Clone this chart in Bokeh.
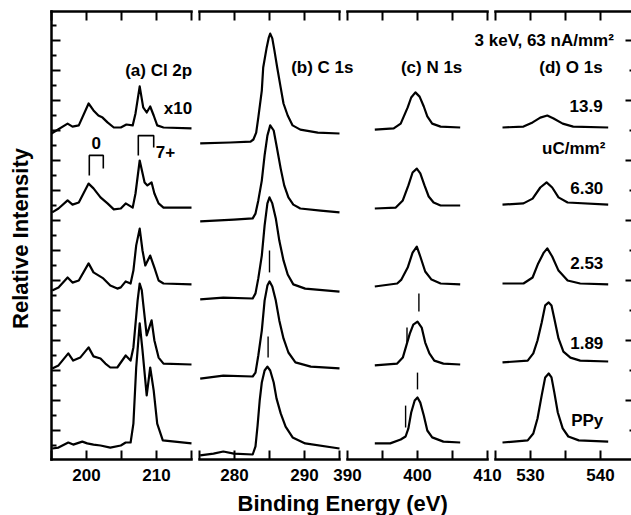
import math
from bokeh.plotting import figure
from bokeh.models import Range1d, LinearAxis, FixedTicker, Label
from bokeh.embed import file_html
from bokeh.resources import INLINE

# ---------------- data (binding energy in eV, stacked relative intensity) -------------
doses = ["PPy", "1.89", "2.53", "6.30", "13.9"]

# Cl 2p
cl_ppy_x = [195.1, 196.0, 197.4, 198.1, 199.4, 200.1, 201.0, 202.0, 203.4, 204.9, 205.6, 206.3, 206.7, 207.1, 207.6, 208.0, 208.6, 209.1, 209.6, 210.1, 210.9, 215.0]
cl_ppy_y = [0.40, 0.43, 0.60, 0.53, 0.63, 0.57, 0.53, 0.50, 0.43, 0.50, 0.60, 0.60, 1.23, 3.10, 4.57, 3.67, 2.17, 3.10, 2.33, 1.23, 0.67, 0.57]
cl_189_x = [195.1, 196.0, 197.4, 198.1, 199.1, 200.3, 201.0, 202.0, 202.7, 203.4, 204.4, 205.6, 206.3, 206.7, 207.3, 207.6, 207.9, 208.1, 208.6, 209.3, 209.7, 210.3, 211.0, 215.0]
cl_189_y = [3.07, 3.17, 3.57, 3.33, 3.43, 3.77, 3.47, 3.40, 3.23, 3.10, 3.10, 3.50, 3.33, 3.77, 5.33, 5.90, 5.67, 5.23, 4.17, 4.67, 4.00, 3.43, 3.23, 3.20]
cl_253_x = [195.1, 196.0, 197.3, 198.0, 198.9, 200.3, 201.0, 201.7, 202.4, 203.4, 204.4, 204.9, 205.6, 206.3, 206.7, 207.1, 207.6, 208.0, 208.4, 209.1, 209.7, 210.3, 211.0, 215.0]
cl_253_y = [5.67, 5.77, 6.10, 5.93, 6.00, 6.57, 6.27, 6.17, 6.07, 5.83, 5.73, 5.77, 5.97, 5.90, 6.33, 7.17, 7.73, 7.00, 6.50, 6.83, 6.43, 6.00, 5.90, 5.87]
cl_630_x = [195.1, 196.0, 197.3, 198.0, 198.9, 200.3, 201.0, 202.0, 203.0, 203.9, 204.9, 205.6, 206.6, 207.0, 207.6, 208.3, 208.7, 209.3, 209.7, 210.3, 211.0, 215.0]
cl_630_y = [8.27, 8.40, 8.67, 8.53, 8.60, 9.23, 9.07, 8.77, 8.57, 8.37, 8.40, 8.57, 8.43, 8.90, 10.00, 9.27, 9.17, 9.27, 8.90, 8.57, 8.43, 8.43]
cl_139_x = [195.0, 197.3, 198.0, 198.9, 200.3, 201.0, 201.7, 202.3, 203.0, 203.9, 204.9, 205.7, 206.6, 207.0, 207.6, 208.1, 208.6, 209.1, 209.6, 210.1, 211.0, 215.0]
cl_139_y = [10.90, 11.23, 11.13, 11.17, 11.90, 11.67, 11.50, 11.43, 11.27, 11.10, 11.10, 11.20, 11.17, 11.57, 12.47, 11.77, 11.60, 11.80, 11.50, 11.17, 11.10, 11.07]

# C 1s
c_ppy_x = [275.1, 277.0, 278.4, 279.9, 282.6, 283.0, 283.3, 283.6, 283.9, 284.3, 284.7, 285.1, 285.6, 286.0, 286.6, 287.3, 288.3, 290.1, 295.0]
c_ppy_y = [0.17, 0.23, 0.30, 0.23, 0.20, 0.47, 1.17, 2.00, 2.60, 3.00, 3.13, 3.00, 2.60, 2.07, 1.57, 1.13, 0.77, 0.57, 0.40]
c_189_x = [275.1, 278.4, 282.6, 283.0, 283.4, 283.9, 284.3, 284.7, 285.0, 285.4, 285.9, 286.4, 287.0, 287.7, 288.7, 290.9, 295.0]
c_189_y = [2.73, 2.83, 2.80, 2.93, 3.50, 4.33, 5.33, 5.83, 5.97, 5.80, 5.33, 4.67, 4.07, 3.60, 3.27, 3.13, 3.07]
c_253_x = [275.1, 278.4, 282.6, 283.0, 283.4, 283.9, 284.3, 284.7, 285.0, 285.4, 285.9, 286.4, 287.0, 287.6, 288.4, 290.1, 295.0]
c_253_y = [5.37, 5.43, 5.40, 5.57, 6.07, 6.83, 7.83, 8.57, 8.77, 8.57, 8.07, 7.33, 6.67, 6.20, 5.87, 5.73, 5.63]
c_630_x = [275.1, 279.9, 282.6, 283.0, 283.4, 283.9, 284.3, 284.7, 285.1, 285.6, 286.0, 286.6, 287.1, 287.7, 288.4, 289.4, 292.3, 295.0]
c_630_y = [7.97, 8.03, 8.07, 8.23, 8.67, 9.33, 10.17, 10.83, 11.17, 11.00, 10.50, 9.73, 9.17, 8.77, 8.53, 8.40, 8.33, 8.27]
c_139_x = [275.1, 279.4, 282.3, 282.7, 283.1, 283.4, 283.9, 284.1, 284.6, 284.9, 285.1, 285.4, 285.7, 286.1, 286.6, 287.0, 287.6, 288.3, 289.4, 291.9, 295.0]
c_139_y = [10.57, 10.60, 10.63, 10.70, 10.93, 11.43, 12.33, 13.10, 13.77, 14.10, 14.23, 14.07, 13.67, 13.10, 12.43, 11.90, 11.50, 11.17, 11.03, 10.93, 10.90]

# N 1s
n_ppy_x = [393.9, 396.1, 397.6, 398.3, 398.7, 399.1, 399.6, 400.0, 400.4, 400.9, 401.4, 402.1, 403.7, 406.1]
n_ppy_y = [0.57, 0.57, 0.70, 0.80, 1.07, 1.60, 2.00, 2.10, 1.93, 1.50, 1.00, 0.77, 0.63, 0.60]
n_189_x = [393.9, 397.1, 397.9, 398.4, 398.9, 399.4, 400.0, 400.6, 401.1, 401.7, 402.4, 403.7, 406.1]
n_189_y = [3.17, 3.23, 3.43, 3.83, 4.23, 4.53, 4.63, 4.43, 3.93, 3.57, 3.33, 3.23, 3.20]
n_253_x = [393.9, 397.1, 397.7, 398.6, 399.3, 399.9, 400.4, 401.1, 402.0, 403.3, 406.1]
n_253_y = [5.80, 5.90, 6.03, 6.43, 6.93, 7.13, 6.80, 6.30, 6.03, 5.90, 5.87]
n_630_x = [393.9, 396.9, 397.9, 398.7, 399.3, 399.9, 400.4, 401.0, 401.6, 402.3, 403.3, 406.1]
n_630_y = [8.40, 8.43, 8.67, 9.17, 9.60, 9.73, 9.57, 9.17, 8.80, 8.60, 8.50, 8.50]
n_139_x = [393.9, 396.6, 397.6, 398.6, 399.1, 399.7, 400.3, 400.9, 401.4, 402.1, 403.3, 406.1]
n_139_y = [11.03, 11.07, 11.23, 11.77, 12.10, 12.27, 12.13, 11.80, 11.47, 11.23, 11.13, 11.10]

# O 1s
o_ppy_x = [526.0, 529.6, 530.4, 531.0, 531.6, 532.1, 532.6, 533.0, 533.4, 533.9, 534.6, 535.4, 536.9, 541.1]
o_ppy_y = [0.60, 0.67, 0.90, 1.40, 2.17, 2.77, 2.90, 2.77, 2.27, 1.60, 1.07, 0.80, 0.67, 0.63]
o_189_x = [526.0, 529.6, 530.4, 531.0, 531.6, 532.1, 532.6, 533.0, 533.4, 534.0, 534.7, 535.7, 537.1, 541.1]
o_189_y = [3.27, 3.33, 3.57, 4.00, 4.60, 5.17, 5.27, 5.17, 4.73, 4.07, 3.63, 3.43, 3.33, 3.30]
o_253_x = [526.0, 529.0, 530.3, 531.1, 531.9, 532.4, 533.1, 534.0, 535.3, 537.1, 541.1]
o_253_y = [5.90, 5.90, 6.10, 6.57, 6.93, 7.07, 6.80, 6.33, 6.00, 5.90, 5.87]
o_630_x = [526.0, 529.0, 530.3, 531.4, 532.3, 533.1, 534.0, 535.3, 541.1]
o_630_y = [8.53, 8.57, 8.73, 9.10, 9.27, 9.10, 8.77, 8.60, 8.53]
o_139_x = [526.0, 529.0, 530.3, 531.4, 532.4, 533.3, 534.6, 536.1, 541.1]
o_139_y = [11.10, 11.13, 11.27, 11.43, 11.50, 11.40, 11.23, 11.13, 11.10]

# peak-position markers (energy, low, high)
c_mark_x = [285.0, 284.8]
c_mark_lo = [6.27, 3.43]
c_mark_hi = [7.00, 4.13]
n_mark_x = [400.2, 398.5, 400.0, 398.3]
n_mark_lo = [4.97, 3.93, 2.37, 1.10]
n_mark_hi = [5.57, 4.43, 2.93, 1.83]

# Cl oxidation-state brackets: (left energy, right energy)
br0_x = [200.4, 202.4]
br7_x = [207.4, 209.6]

# axis ticks
cl_window, c_window, n_window, o_window = (195, 215), (275, 295), (390, 410), (525, 545)
cl_major, cl_minor = [200, 210], [195, 205, 215]
c_major, c_minor = [280, 290], [275, 285, 295]
n_major, n_minor = [390, 400, 410], [395, 405]
o_major, o_minor = [530, 540], [525, 535, 545]
y_major = list(range(1, 15))
y_minor = [k + 0.5 for k in range(0, 15)]
yr_major = list(range(2, 15, 2))
yr_minor = list(range(1, 15, 2))

# ---------------- layout (the frame covers the whole canvas) ----------------
FONT = "Liberation Sans"
W, H = 631, 515
PX_PER_EV = 7.0
PX_PER_UNIT = 30.0
panel_px = {"a": 51, "b": 199, "c": 347, "d": 495}
windows = {"a": cl_window, "b": c_window, "c": n_window, "d": o_window}
ranges = {k: Range1d(windows[k][0] - panel_px[k] / PX_PER_EV,
                     windows[k][0] - panel_px[k] / PX_PER_EV + W / PX_PER_EV) for k in windows}
# y: one unit per 30 px; axis frame from px 11 (top) to px 459 (bottom)
Y_TOP_PX, Y_BOT_PX, Y_REF_PX = 11, 459, 430
y_of = lambda py: 1 + (Y_REF_PX - py) / PX_PER_UNIT
Y_AX_LO, Y_AX_HI = y_of(Y_BOT_PX), y_of(Y_TOP_PX)

p = figure(width=W, height=H, min_border=0,
           min_border_left=0, min_border_right=0, min_border_top=0, min_border_bottom=0,
           x_range=ranges["a"], y_range=Range1d(y_of(H), y_of(0)),
           x_axis_location=None, y_axis_location=None,
           output_backend="svg", toolbar_location=None)
p.extra_x_ranges = {k: ranges[k] for k in ("b", "c", "d")}
p.outline_line_color = None
for g in p.grid:
    g.visible = False


def xname(k):
    return "default" if k == "a" else k


def style_axis(ax):
    ax.axis_line_width = 2.5
    ax.axis_line_cap = "square"
    ax.major_tick_line_width = 2
    ax.minor_tick_line_width = 2
    ax.major_label_text_font = FONT
    ax.major_label_text_font_style = "bold"
    ax.major_label_text_font_size = "17px"
    ax.major_label_text_color = "black"


ticks = {"a": (cl_major, cl_minor), "b": (c_major, c_minor), "c": (n_major, n_minor), "d": (o_major, o_minor)}
for k in ("a", "b", "c", "d"):
    for side, loc in (("below", Y_AX_LO), ("above", Y_AX_HI)):
        ax = LinearAxis(x_range_name=xname(k), fixed_location=loc, bounds=windows[k],
                        ticker=FixedTicker(ticks=ticks[k][0], minor_ticks=ticks[k][1]))
        style_axis(ax)
        ax.major_tick_in, ax.major_tick_out = 9, 0
        ax.minor_tick_in, ax.minor_tick_out = 9, 0
        ax.major_label_standoff = 9
        if side == "above":
            ax.major_label_text_color = None
        p.add_layout(ax, side)

# left axis (no tick labels)
yl = LinearAxis(ticker=FixedTicker(ticks=y_major, minor_ticks=y_minor),
                fixed_location=cl_window[0], bounds=(Y_AX_LO, Y_AX_HI))
style_axis(yl)
yl.major_tick_in, yl.major_tick_out = 9, 0
yl.minor_tick_in, yl.minor_tick_out = 5, 0
yl.major_label_text_color = None
p.add_layout(yl, "left")

# right axis: ticks only at the right edge
yr = LinearAxis(ticker=FixedTicker(ticks=yr_major, minor_ticks=yr_minor),
                fixed_location=ranges["a"].end, bounds=(Y_AX_LO, Y_AX_HI))
style_axis(yr)
yr.axis_line_color = None
yr.major_tick_in, yr.major_tick_out = 6, 0
yr.minor_tick_in, yr.minor_tick_out = 2, 0
yr.major_label_text_color = None
p.add_layout(yr, "right")

# ---------------- spectra ----------------
series = {
    "a": [(cl_ppy_x, cl_ppy_y), (cl_189_x, cl_189_y), (cl_253_x, cl_253_y), (cl_630_x, cl_630_y), (cl_139_x, cl_139_y)],
    "b": [(c_ppy_x, c_ppy_y), (c_189_x, c_189_y), (c_253_x, c_253_y), (c_630_x, c_630_y), (c_139_x, c_139_y)],
    "c": [(n_ppy_x, n_ppy_y), (n_189_x, n_189_y), (n_253_x, n_253_y), (n_630_x, n_630_y), (n_139_x, n_139_y)],
    "d": [(o_ppy_x, o_ppy_y), (o_189_x, o_189_y), (o_253_x, o_253_y), (o_630_x, o_630_y), (o_139_x, o_139_y)],
}
for k, lst in series.items():
    for xs, ys in lst:
        p.line(xs, ys, x_range_name=xname(k), line_color="black", line_width=2.2, line_join="round")

# markers
p.segment(x0=c_mark_x, y0=c_mark_lo, x1=c_mark_x, y1=c_mark_hi, x_range_name="b", line_color="black", line_width=1.4)
p.segment(x0=n_mark_x, y0=n_mark_lo, x1=n_mark_x, y1=n_mark_hi, x_range_name="c", line_color="black", line_width=1.4)

# brackets
p.multi_line(xs=[[br0_x[0], br0_x[0], br0_x[1], br0_x[1]], [br7_x[0], br7_x[0], br7_x[1], br7_x[1]]],
             ys=[[9.50, 10.17, 10.17, 9.73], [10.17, 10.83, 10.83, 10.43]],
             line_color="black", line_width=1.6)

# ---------------- labels ----------------
labels = [
    ("default", 215.1, 13.0, "(a) Cl 2p", "right", "17px", 0),
    ("default", 215.1, 11.73, "x10", "right", "17px", 0),
    ("default", 201.4, 10.57, "0", "center", "17px", 0),
    ("default", 209.9, 10.27, "7+", "left", "17px", 0),
    ("b", 297.0, 13.1, "(b) C 1s", "right", "17px", 0),
    ("c", 406.4, 13.1, "(c) N 1s", "right", "17px", 0),
    ("d", 540.3, 13.1, "(d) O 1s", "right", "17px", 0),
    ("d", 541.9, 14.0, "3 keV, 63 nA/mm\u00b2", "right", "17px", 0),
    ("d", 540.3, 11.83, doses[4], "right", "17px", 0),
    ("d", 540.7, 10.4, "uC/mm\u00b2", "right", "17px", 0),
    ("d", 540.4, 9.1, doses[3], "right", "17px", 0),
    ("d", 540.4, 6.6, doses[2], "right", "17px", 0),
    ("d", 540.4, 3.93, doses[1], "right", "17px", 0),
    ("d", 540.4, 1.33, doses[0], "right", "17px", 0),
    ("default", 236.6, -1.43, "Binding Energy (eV)", "center", "22px", 0),
    ("default", 190.6, 7.4, "Relative Intensity", "center", "22px", math.pi / 2),
]
for rn, x, y, t, al, fs, ang in labels:
    p.add_layout(Label(x=x, y=y, x_range_name=rn, text=t, text_align=al, text_baseline="middle", angle=ang,
                       text_font=FONT, text_font_style="bold", text_font_size=fs, text_color="black"))

open("out.html", "w").write(file_html(p, INLINE))
